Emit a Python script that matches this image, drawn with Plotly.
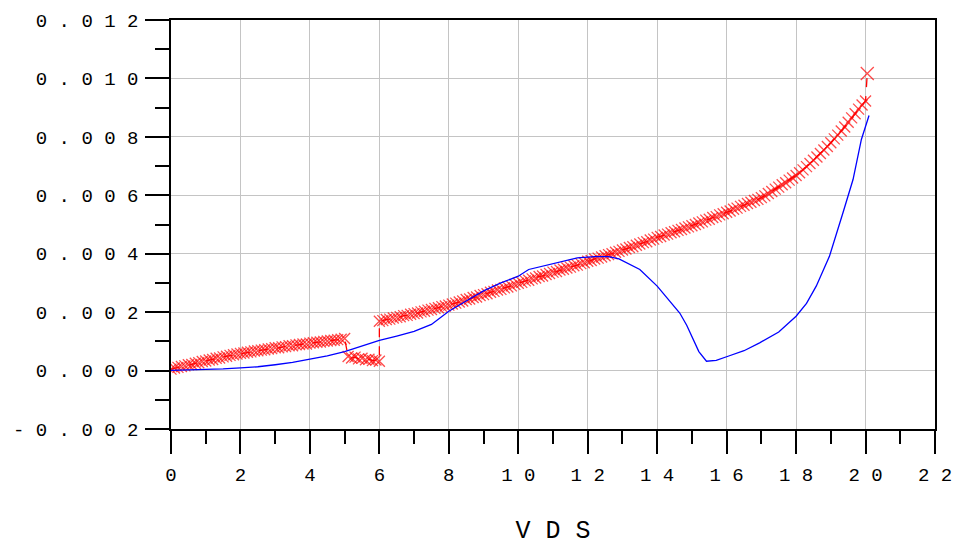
import numpy as np
import plotly.graph_objects as go

# Measured drain current (units of 1e-4 A) over three VDS sweep segments
vds_meas_a = np.linspace(0.0, 5.0, 51)
ids_meas_a = [
    0.5, 0.9, 1.1, 1.4, 1.6, 2.0, 2.1, 2.5, 2.7, 3.1,
    3.3, 3.6, 3.8, 4.2, 4.3, 4.7, 4.9, 5.2, 5.4, 5.7,
    5.9, 6.0, 6.3, 6.4, 6.7, 6.8, 7.0, 7.1, 7.4, 7.5,
    7.8, 7.8, 8.1, 8.2, 8.5, 8.5, 8.8, 8.9, 9.1, 9.1,
    9.4, 9.5, 9.7, 9.8, 10.0, 10.1, 10.3, 10.4, 10.6, 10.7,
    11.0,
]
vds_meas_b = np.linspace(5.1, 6.0, 10)
ids_meas_b = [4.8, 4.3, 4.6, 4.0, 4.2, 3.7, 3.9, 3.4, 3.6, 3.2]
vds_meas_c = np.linspace(6.0, 20.0, 141)
ids_meas_c = [
    16.9, 17.1, 17.5, 17.6, 18.0, 18.2, 18.4, 18.8, 18.9, 19.3, 19.5,
    19.7, 20.1, 20.3, 20.7, 20.9, 21.3, 21.5, 21.9, 22.1, 22.4,
    22.8, 23.1, 23.5, 23.8, 24.3, 24.5, 25.0, 25.2, 25.7, 26.0,
    26.3, 26.8, 27.1, 27.6, 27.8, 28.3, 28.6, 29.0, 29.5, 29.9,
    30.2, 30.7, 30.9, 31.4, 31.7, 32.2, 32.4, 32.9, 33.2, 33.7,
    33.9, 34.4, 34.7, 35.1, 35.4, 35.9, 36.1, 36.6, 36.9, 37.4,
    37.7, 38.2, 38.5, 38.9, 39.3, 39.7, 40.0, 40.5, 40.8, 41.3,
    41.6, 42.1, 42.4, 42.9, 43.3, 43.8, 44.1, 44.7, 45.0, 45.6,
    45.9, 46.4, 46.7, 47.2, 47.5, 48.0, 48.3, 48.8, 49.2, 49.6,
    50.0, 50.5, 50.9, 51.5, 51.8, 52.4, 52.7, 53.3, 53.7, 54.2,
    54.6, 55.2, 55.6, 56.2, 56.6, 57.2, 57.6, 58.2, 58.6, 59.2,
    59.8, 60.6, 61.3, 62.1, 62.8, 63.6, 64.3, 65.2, 65.9, 66.8,
    67.7, 68.7, 69.8, 70.9, 72.0, 73.1, 74.3, 75.5, 76.7, 78.0,
    79.3, 80.6, 82.0, 83.4, 85.0, 86.5, 87.9, 89.5, 90.9, 92.3,
]
vds_meas_end = [20.05]
ids_meas_end = [101.7]

# Simulated drain current (units of 1e-4 A)
vds_sim = [
    0.0, 0.5, 1.0, 1.5, 2.0, 2.5, 3.0, 3.5, 4.0, 4.5, 5.0, 5.5, 6.0, 6.5,
    7.0, 7.5, 8.0, 8.5, 9.0, 9.5, 10.0, 10.3, 10.7, 11.1, 11.7, 12.2, 12.6,
    12.9, 13.5, 14.0, 14.3, 14.65, 14.85, 15.03, 15.2, 15.42, 15.7, 16.04,
    16.5, 16.95, 17.5, 18.0, 18.3, 18.58, 18.96, 19.35, 19.64, 19.88, 20.1,
]
ids_sim = [
    0.1, 0.2, 0.4, 0.6, 0.9, 1.3, 2.0, 2.8, 3.9, 5.0, 6.5, 8.4, 10.3, 11.8,
    13.4, 15.8, 20.3, 23.8, 27.3, 30.0, 32.3, 34.6, 35.8, 36.9, 38.6, 39.0, 39.0,
    38.2, 34.6, 28.9, 24.8, 19.7, 15.5, 10.6, 6.5, 3.2, 3.5, 4.9,
    6.8, 9.5, 13.2, 18.6, 23.0, 28.9, 39.1, 54.0, 65.4, 79.1, 87.3,
]

x_ticks = list(range(0, 23, 2))
x_tick_text = [" ".join(str(v)) for v in x_ticks]
y_ticks = [-0.002, 0.0, 0.002, 0.004, 0.006, 0.008, 0.010, 0.012]
y_tick_text = [
    "- 0 . 0 0 2", "0 . 0 0 0", "0 . 0 0 2", "0 . 0 0 4",
    "0 . 0 0 6", "0 . 0 0 8", "0 . 0 1 0", "0 . 0 1 2",
]

scale = 1e-4
vds_meas = np.concatenate([vds_meas_a, vds_meas_b, vds_meas_c, vds_meas_end])
ids_meas = np.concatenate([ids_meas_a, ids_meas_b, ids_meas_c, ids_meas_end]) * scale
marker_sizes = [11] * (len(vds_meas) - 1) + [13]

fig = go.Figure()
fig.add_trace(go.Scatter(
    x=vds_meas, y=ids_meas, mode="lines+markers",
    line=dict(color="#ff0000", width=1.3, dash="dash"),
    marker=dict(symbol="x-thin", size=marker_sizes,
                line=dict(color="#ff0000", width=1.3)),
    showlegend=False,
))
fig.add_trace(go.Scatter(
    x=vds_sim, y=np.array(ids_sim) * scale, mode="lines",
    line=dict(color="#0000ff", width=1.3),
    showlegend=False,
))

mono = "Liberation Mono"
axis_common = dict(
    showline=True, linecolor="black", linewidth=1.5, mirror=True,
    ticks="outside", tickcolor="black", tickwidth=1.5,
    showgrid=True, gridcolor="#c4c4c4", gridwidth=1.3,
    zeroline=False, tickmode="array", automargin=False,
    tickfont=dict(family=mono, size=19, color="black"),
)

fig.update_layout(
    width=956, height=546, autosize=False,
    margin=dict(l=171, r=21, t=20, b=117),
    paper_bgcolor="white", plot_bgcolor="white",
    xaxis=dict(
        axis_common, range=[0, 22], tickvals=x_ticks, ticktext=x_tick_text,
        ticklen=23, ticklabelstandoff=4,
        minor=dict(ticks="outside", ticklen=13, tick0=0, dtick=1,
                   tickcolor="black", tickwidth=1.5, showgrid=False),
        title=dict(text="V D S", font=dict(family=mono, size=25, color="black"),
                   standoff=42),
    ),
    yaxis=dict(
        axis_common, range=[-0.002, 0.012], tickvals=y_ticks, ticktext=y_tick_text,
        ticklen=24, ticklabelstandoff=3,
        minor=dict(ticks="outside", ticklen=14, tick0=0, dtick=0.001,
                   tickcolor="black", tickwidth=1.5, showgrid=False),
    ),
)

fig.write_html("out.html")
